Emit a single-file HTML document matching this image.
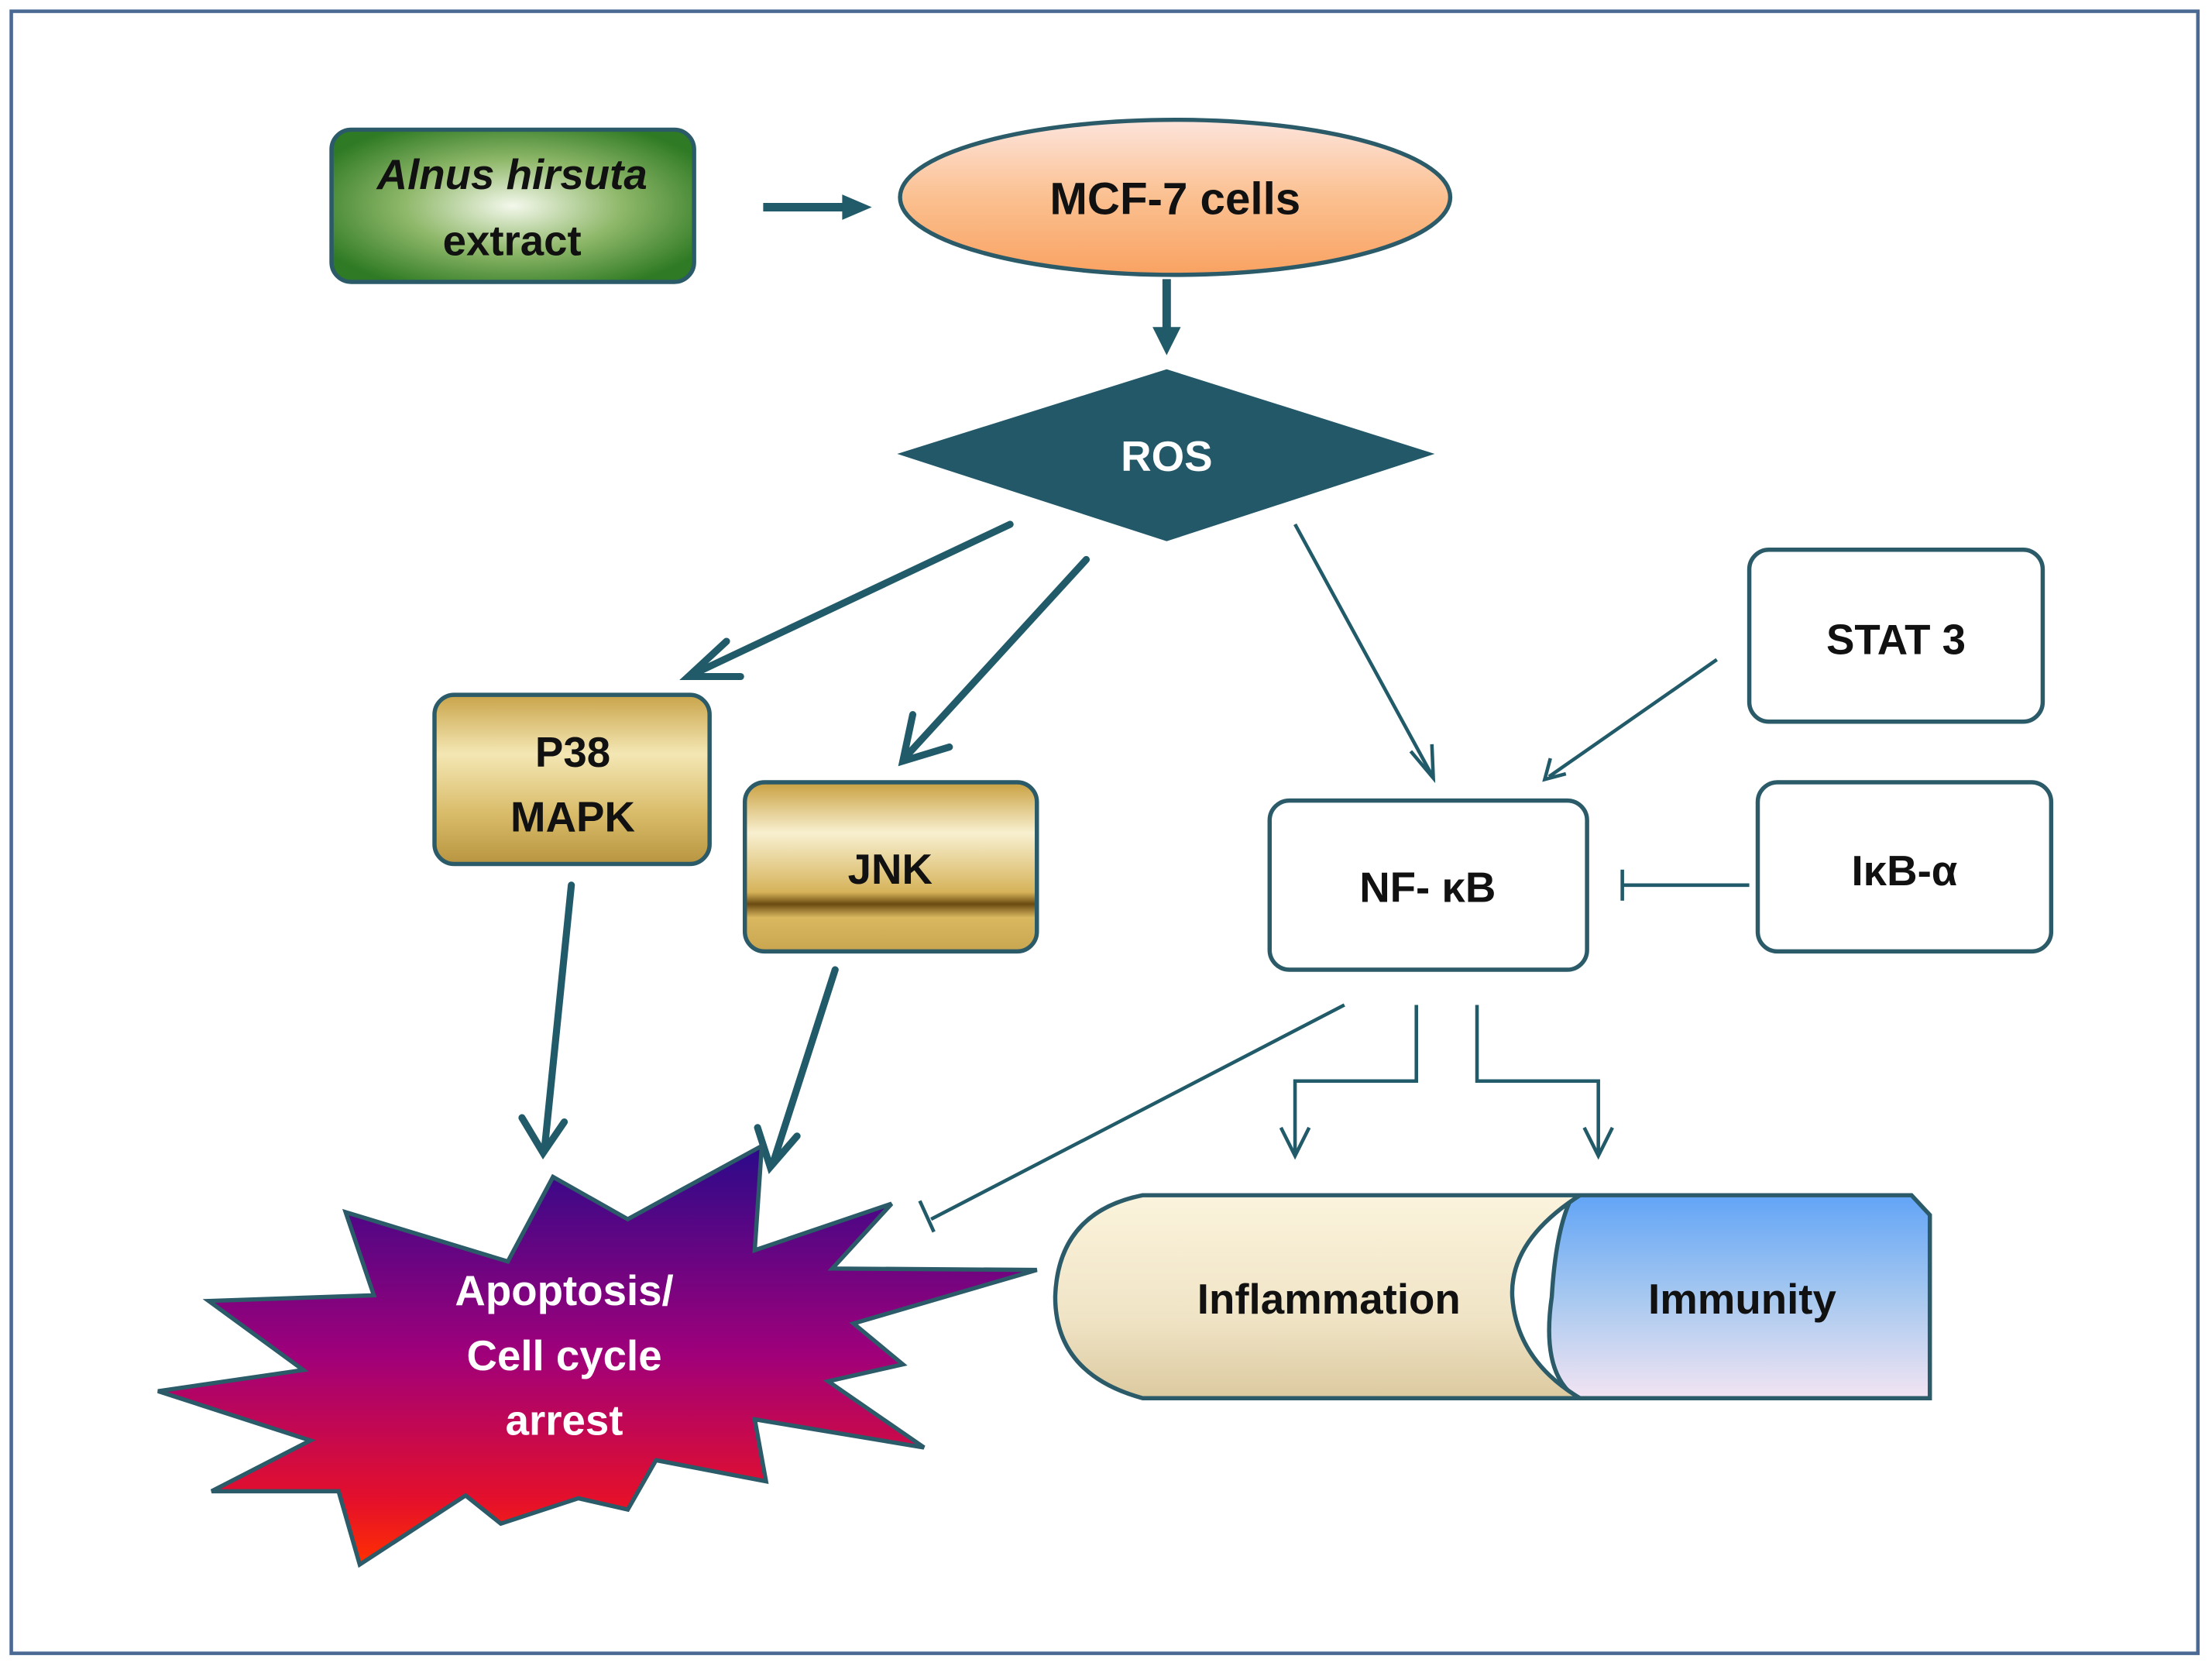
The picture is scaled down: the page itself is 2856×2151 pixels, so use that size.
<!DOCTYPE html>
<html><head><meta charset="utf-8"><style>
html,body{margin:0;padding:0;background:#fff;}
svg{display:block;}
text{font-family:"Liberation Sans",sans-serif;font-weight:bold;}
</style></head><body>
<svg width="2856" height="2151" viewBox="0 0 1568 1182" preserveAspectRatio="none" xmlns="http://www.w3.org/2000/svg">
<defs>
<radialGradient id="g1" cx="50%" cy="50%" r="60%"><stop offset="0" stop-color="#f4f8ec"/><stop offset="0.5" stop-color="#8fb86a"/><stop offset="1" stop-color="#2f7a24"/></radialGradient>
<linearGradient id="g2" x1="0" y1="0" x2="0" y2="1"><stop offset="0" stop-color="#fde4dc"/><stop offset="0.5" stop-color="#fbc090"/><stop offset="1" stop-color="#f9a262"/></linearGradient>
<linearGradient id="g3" x1="0" y1="0" x2="0" y2="1"><stop offset="0" stop-color="#c9a44a"/><stop offset="0.35" stop-color="#f4e7b4"/><stop offset="0.7" stop-color="#d9bc6a"/><stop offset="1" stop-color="#b89540"/></linearGradient>
<linearGradient id="g4" x1="0" y1="0" x2="0" y2="1"><stop offset="0" stop-color="#c9a040"/><stop offset="0.3" stop-color="#f8f0d0"/><stop offset="0.65" stop-color="#d6b35a"/><stop offset="0.72" stop-color="#6a4a10"/><stop offset="0.8" stop-color="#d9b860"/><stop offset="1" stop-color="#c9a550"/></linearGradient>
<linearGradient id="g5" x1="0" y1="0" x2="0" y2="1"><stop offset="0" stop-color="#2a0a8a"/><stop offset="0.5" stop-color="#a0007a"/><stop offset="0.85" stop-color="#e5102a"/><stop offset="1" stop-color="#ff3000"/></linearGradient>
<linearGradient id="g6" x1="0" y1="0" x2="0" y2="1"><stop offset="0" stop-color="#fbf3dc"/><stop offset="0.6" stop-color="#f0e4c6"/><stop offset="1" stop-color="#dccaa0"/></linearGradient>
<linearGradient id="g7" x1="0" y1="0" x2="0" y2="1"><stop offset="0" stop-color="#62a4f6"/><stop offset="0.5" stop-color="#a6c8f0"/><stop offset="1" stop-color="#f2e4f2"/></linearGradient>
</defs>
<rect x="8" y="8" width="1550" height="1165" fill="#fff" stroke="#4a6a94" stroke-width="2.5"/>
<rect x="235" y="92" width="257" height="108" rx="14" fill="url(#g1)" stroke="#2b5a68" stroke-width="3"/>
<text x="363" y="134" font-size="30" text-anchor="middle" font-style="italic" fill="#111">Alnus hirsuta</text>
<text x="363" y="181" font-size="30" text-anchor="middle" fill="#111">extract</text>
<line x1="541" y1="147" x2="600" y2="147" stroke="#215a68" stroke-width="6"/>
<path d="M597,138 L618,147 L597,156 Z" fill="#215a68"/>
<ellipse cx="833" cy="140" rx="195" ry="55" fill="url(#g2)" stroke="#2b5a68" stroke-width="3"/>
<text x="833" y="152" font-size="32" text-anchor="middle" fill="#111">MCF-7 cells</text>
<line x1="827" y1="198" x2="827" y2="235" stroke="#215a68" stroke-width="6"/>
<path d="M817,232 L827,252 L837,232 Z" fill="#215a68"/>
<path d="M827,262 L1017,322 L827,384 L636,322 Z" fill="#235868"/>
<text x="827" y="334" font-size="30" text-anchor="middle" fill="#fff">ROS</text>
<g stroke="#215a68" stroke-width="5" fill="none" stroke-linecap="round">
<line x1="716" y1="372" x2="492" y2="478"/>
<path d="M515,455 L488,480 L525,480"/>
<line x1="770" y1="397" x2="642" y2="537"/>
<path d="M647,507 L640,540 L673,530"/>
<line x1="405" y1="628" x2="386" y2="815"/>
<path d="M370,793 L385,818 L400,796"/>
<line x1="592" y1="688" x2="548" y2="825"/>
<path d="M537,800 L546,828 L565,806"/>
</g>
<g stroke="#215a68" stroke-width="2.5" fill="none">
<line x1="918" y1="372" x2="1015" y2="550"/>
<path d="M1000,533 L1016,552 L1015,528"/>
<line x1="1217" y1="468" x2="1098" y2="551"/>
<path d="M1099,538 L1095,553 L1110,549"/>
<line x1="1240" y1="628" x2="1150" y2="628"/>
<line x1="1150" y1="617" x2="1150" y2="639"/>
<line x1="953" y1="713" x2="660" y2="865"/>
<line x1="652" y1="852" x2="662" y2="874"/>
<path d="M1004,713 L1004,767 L918,767 L918,818"/>
<path d="M908,800 L918,820 L928,800"/>
<path d="M1047,713 L1047,767 L1133,767 L1133,818"/>
<path d="M1123,800 L1133,820 L1143,800"/>
</g>
<rect x="308" y="493" width="195" height="120" rx="14" fill="url(#g3)" stroke="#2b5a68" stroke-width="3"/>
<text x="406" y="544" font-size="30" text-anchor="middle" fill="#111">P38</text>
<text x="406" y="590" font-size="30" text-anchor="middle" fill="#111">MAPK</text>
<rect x="528" y="555" width="207" height="120" rx="14" fill="url(#g4)" stroke="#2b5a68" stroke-width="3"/>
<text x="631" y="627" font-size="30" text-anchor="middle" fill="#111">JNK</text>
<rect x="900" y="568" width="225" height="120" rx="14" fill="#fff" stroke="#2b5a68" stroke-width="3"/>
<text x="1012" y="640" font-size="30" text-anchor="middle" fill="#111">NF- κB</text>
<rect x="1240" y="390" width="208" height="122" rx="14" fill="#fff" stroke="#2b5a68" stroke-width="3"/>
<text x="1344" y="464" font-size="30" text-anchor="middle" fill="#111">STAT 3</text>
<rect x="1246" y="555" width="208" height="120" rx="14" fill="#fff" stroke="#2b5a68" stroke-width="3"/>
<text x="1350" y="628" font-size="30" text-anchor="middle" fill="#111">IκB-α</text>
<polygon points="148,923 265,919 245,860 360,895 392,835 445,865 540,813 535,887 632,854 590,900 735,901 605,939 640,968 587,980 655,1027 535,1007 543,1051 465,1036 445,1071 410,1063 355,1081 330,1061 255,1110 240,1058 150,1058 220,1022 112,987 215,972" fill="url(#g5)" stroke="#2b5a68" stroke-width="3" stroke-linejoin="miter"/>
<text x="400" y="926" font-size="30" text-anchor="middle" fill="#fff">Apoptosis/</text>
<text x="400" y="972" font-size="30" text-anchor="middle" fill="#fff">Cell cycle</text>
<text x="400" y="1018" font-size="30" text-anchor="middle" fill="#fff">arrest</text>
<path d="M1100,848 L1355,848 L1368,862 L1368,992 L1118,992 Q1092,975 1100,920 Q1103,870 1115,848 Z" fill="url(#g7)" stroke="#2b5a68" stroke-width="3"/>
<path d="M810,848 L1120,848 Q1070,880 1072,920 Q1075,965 1120,992 L810,992 Q748,975 748,920 Q750,860 810,848 Z" fill="url(#g6)" stroke="#2b5a68" stroke-width="3"/>
<text x="942" y="932" font-size="30" text-anchor="middle" fill="#111">Inflammation</text>
<text x="1235" y="932" font-size="30" text-anchor="middle" fill="#111">Immunity</text>
</svg>
</body></html>
